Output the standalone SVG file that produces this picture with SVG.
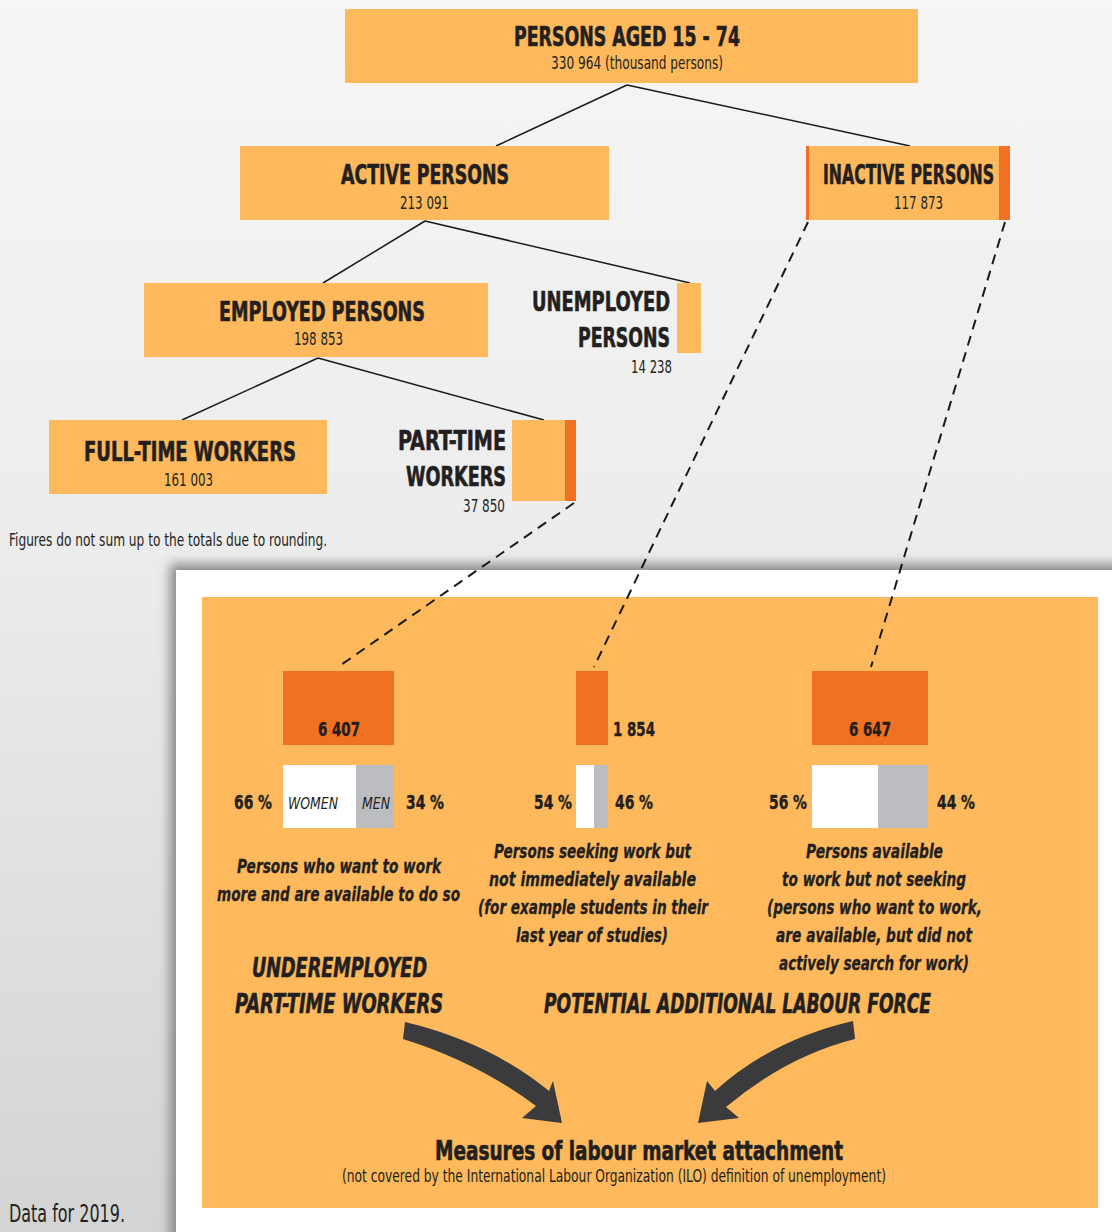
<svg xmlns="http://www.w3.org/2000/svg" width="1112" height="1232" viewBox="0 0 1112 1232">
<defs>
<linearGradient id="bg" x1="0" y1="0" x2="0" y2="1">
<stop offset="0" stop-color="#f6f6f6"/>
<stop offset="0.45" stop-color="#ececec"/>
<stop offset="1" stop-color="#d4d4d4"/>
</linearGradient>
<filter id="sh" x="-5%" y="-5%" width="110%" height="110%">
<feGaussianBlur stdDeviation="6"/>
</filter>
<style>
text{font-family:"Liberation Sans Narrow","DejaVu Sans Condensed","Liberation Sans",sans-serif;fill:#231f20}
.h{font-weight:bold;font-size:26px;stroke:#231f20;stroke-width:0.6}
.n{font-size:17px}
.b{font-weight:bold;font-size:20px;stroke:#231f20;stroke-width:0.4}
.i{font-style:italic;font-weight:bold;font-size:20px;stroke:#231f20;stroke-width:0.3}
.ih{font-style:italic;font-weight:bold;font-size:27px;stroke:#231f20;stroke-width:0.6}
.lo{fill:#fdb95b}
.do{fill:#f07122}
.gr{fill:#bcbdc0}
.wh{fill:#ffffff}
.ln{stroke:#1a1a1a;stroke-width:1.5;fill:none}
.da{stroke:#1a1a1a;stroke-width:2;fill:none;stroke-dasharray:10 7}
.ar{fill:#3b3a3c}
</style>
</defs>
<rect width="1112" height="1232" fill="url(#bg)"/>
<rect x="170" y="564" width="960" height="690" fill="#888" filter="url(#sh)"/>
<rect x="176" y="570" width="936" height="662" fill="#ffffff"/>
<rect x="202" y="597" width="896" height="611" class="lo"/>

<g id="connectors">
<line class="ln" x1="627" y1="85" x2="496" y2="146"/>
<line class="ln" x1="627" y1="85" x2="910" y2="146"/>
<line class="ln" x1="425" y1="221" x2="323" y2="283"/>
<line class="ln" x1="425" y1="221" x2="690" y2="283"/>
<line class="ln" x1="318" y1="358" x2="182" y2="420"/>
<line class="ln" x1="318" y1="358" x2="544" y2="420"/>
<line class="da" x1="574" y1="503" x2="338" y2="667"/>
<line class="da" x1="808" y1="222" x2="594" y2="667"/>
<line class="da" x1="1005" y1="222" x2="871" y2="667"/>
<path class="ar" d="M405,1022 Q489,1042 549,1091 L553,1081 L562,1123 L522,1118 L536,1106 Q477,1062 403,1039 Z"/>
<path class="ar" d="M853,1021 Q771,1040 715,1091 L707,1081 L698,1123 L739,1118 L726,1107 Q787,1056 855,1039 Z"/>
</g>

<g id="persons-aged">
<rect x="345" y="9" width="573" height="74" class="lo"/>
<text class="h" x="627" y="46" text-anchor="middle" textLength="226" lengthAdjust="spacingAndGlyphs">PERSONS AGED 15 - 74</text>
<text class="n" x="637" y="69" text-anchor="middle" textLength="172" lengthAdjust="spacingAndGlyphs">330 964 (thousand persons)</text>
</g>

<g id="active">
<rect x="240" y="146" width="369" height="74" class="lo"/>
<text class="h" x="425" y="184" text-anchor="middle" textLength="168" lengthAdjust="spacingAndGlyphs">ACTIVE PERSONS</text>
<text class="n" x="424.5" y="209" text-anchor="middle" textLength="49" lengthAdjust="spacingAndGlyphs">213 091</text>
</g>

<g id="inactive">
<rect x="806" y="146" width="204" height="74" class="lo"/>
<rect x="806" y="146" width="3" height="74" class="do"/>
<rect x="999" y="146" width="11" height="74" class="do"/>
<text class="h" x="908.5" y="184" text-anchor="middle" textLength="171" lengthAdjust="spacingAndGlyphs">INACTIVE PERSONS</text>
<text class="n" x="918.5" y="209" text-anchor="middle" textLength="49" lengthAdjust="spacingAndGlyphs">117 873</text>
</g>

<g id="employed">
<rect x="144" y="283" width="344" height="74" class="lo"/>
<text class="h" x="322" y="321" text-anchor="middle" textLength="206" lengthAdjust="spacingAndGlyphs">EMPLOYED PERSONS</text>
<text class="n" x="318.5" y="345" text-anchor="middle" textLength="49" lengthAdjust="spacingAndGlyphs">198 853</text>
</g>

<g id="unemployed">
<rect x="677" y="283" width="24" height="70" class="lo"/>
<text class="h" x="670" y="311" text-anchor="end" textLength="138" lengthAdjust="spacingAndGlyphs">UNEMPLOYED</text>
<text class="h" x="670" y="347" text-anchor="end" textLength="92" lengthAdjust="spacingAndGlyphs">PERSONS</text>
<text class="n" x="672" y="373" text-anchor="end" textLength="41" lengthAdjust="spacingAndGlyphs">14 238</text>
</g>

<g id="full-time">
<rect x="49" y="420" width="278" height="74" class="lo"/>
<text class="h" x="190" y="461" text-anchor="middle" textLength="212" lengthAdjust="spacingAndGlyphs">FULL-TIME WORKERS</text>
<text class="n" x="188.5" y="486" text-anchor="middle" textLength="49" lengthAdjust="spacingAndGlyphs">161 003</text>
</g>

<g id="part-time">
<rect x="512" y="420" width="64" height="81" class="lo"/>
<rect x="565" y="420" width="11" height="81" class="do"/>
<text class="h" x="506" y="450" text-anchor="end" textLength="108" lengthAdjust="spacingAndGlyphs">PART-TIME</text>
<text class="h" x="506" y="486" text-anchor="end" textLength="100" lengthAdjust="spacingAndGlyphs">WORKERS</text>
<text class="n" x="505" y="512" text-anchor="end" textLength="42" lengthAdjust="spacingAndGlyphs">37 850</text>
</g>

<text class="n" x="9" y="546" textLength="318" lengthAdjust="spacingAndGlyphs">Figures do not sum up to the totals due to rounding.</text>

<g id="underemployed">
<rect x="283" y="671" width="111" height="74" class="do"/>
<text class="b" x="339" y="736" text-anchor="middle" textLength="42" lengthAdjust="spacingAndGlyphs">6 407</text>
<rect x="283" y="765" width="73" height="63" class="wh"/>
<rect x="356" y="765" width="38" height="63" class="gr"/>
<text x="288" y="809" font-style="italic" font-size="16" textLength="50" lengthAdjust="spacingAndGlyphs">WOMEN</text>
<text x="362" y="809" font-style="italic" font-size="16" textLength="28" lengthAdjust="spacingAndGlyphs">MEN</text>
<text class="b" x="272" y="809" text-anchor="end" textLength="38" lengthAdjust="spacingAndGlyphs">66 %</text>
<text class="b" x="406" y="809" textLength="38" lengthAdjust="spacingAndGlyphs">34 %</text>
<text class="i" x="339" y="873" text-anchor="middle" textLength="204" lengthAdjust="spacingAndGlyphs">Persons who want to work</text>
<text class="i" x="338.5" y="901" text-anchor="middle" textLength="243" lengthAdjust="spacingAndGlyphs">more and are available to do so</text>
</g>

<g id="seeking">
<rect x="576" y="671" width="32" height="74" class="do"/>
<text class="b" x="613" y="736" textLength="42" lengthAdjust="spacingAndGlyphs">1 854</text>
<rect x="576" y="765" width="18" height="63" class="wh"/>
<rect x="594" y="765" width="14" height="63" class="gr"/>
<text class="b" x="572" y="809" text-anchor="end" textLength="38" lengthAdjust="spacingAndGlyphs">54 %</text>
<text class="b" x="615" y="809" textLength="38" lengthAdjust="spacingAndGlyphs">46 %</text>
<text class="i" x="592.5" y="858" text-anchor="middle" textLength="197" lengthAdjust="spacingAndGlyphs">Persons seeking work but</text>
<text class="i" x="592.5" y="886" text-anchor="middle" textLength="207" lengthAdjust="spacingAndGlyphs">not immediately available</text>
<text class="i" x="593" y="914" text-anchor="middle" textLength="230" lengthAdjust="spacingAndGlyphs">(for example students in their</text>
<text class="i" x="592" y="942" text-anchor="middle" textLength="152" lengthAdjust="spacingAndGlyphs">last year of studies)</text>
</g>

<g id="available">
<rect x="812" y="671" width="116" height="74" class="do"/>
<text class="b" x="870" y="736" text-anchor="middle" textLength="42" lengthAdjust="spacingAndGlyphs">6 647</text>
<rect x="812" y="765" width="66" height="63" class="wh"/>
<rect x="878" y="765" width="50" height="63" class="gr"/>
<text class="b" x="807" y="809" text-anchor="end" textLength="38" lengthAdjust="spacingAndGlyphs">56 %</text>
<text class="b" x="937" y="809" textLength="38" lengthAdjust="spacingAndGlyphs">44 %</text>
<text class="i" x="874.5" y="858" text-anchor="middle" textLength="137" lengthAdjust="spacingAndGlyphs">Persons available</text>
<text class="i" x="874" y="886" text-anchor="middle" textLength="184" lengthAdjust="spacingAndGlyphs">to work but not seeking</text>
<text class="i" x="874.5" y="914" text-anchor="middle" textLength="215" lengthAdjust="spacingAndGlyphs">(persons who want to work,</text>
<text class="i" x="874" y="942" text-anchor="middle" textLength="196" lengthAdjust="spacingAndGlyphs">are available, but did not</text>
<text class="i" x="874" y="970" text-anchor="middle" textLength="190" lengthAdjust="spacingAndGlyphs">actively search for work)</text>
</g>

<g id="underemployed-label">
<text class="ih" x="339.5" y="977" text-anchor="middle" textLength="175" lengthAdjust="spacingAndGlyphs">UNDEREMPLOYED</text>
<text class="ih" x="339" y="1013" text-anchor="middle" textLength="208" lengthAdjust="spacingAndGlyphs">PART-TIME WORKERS</text>
</g>

<g id="potential-label">
<text class="ih" x="737.5" y="1013" text-anchor="middle" textLength="387" lengthAdjust="spacingAndGlyphs">POTENTIAL ADDITIONAL LABOUR FORCE</text>
</g>

<g id="measures">
<text class="h" x="639" y="1160" text-anchor="middle" textLength="408" lengthAdjust="spacingAndGlyphs">Measures of labour market attachment</text>
<text class="n" x="614" y="1182" text-anchor="middle" textLength="544" lengthAdjust="spacingAndGlyphs">(not covered by the International Labour Organization (ILO) definition of unemployment)</text>
</g>

<text x="9" y="1222" font-size="24" textLength="116" lengthAdjust="spacingAndGlyphs">Data for 2019.</text>
</svg>
